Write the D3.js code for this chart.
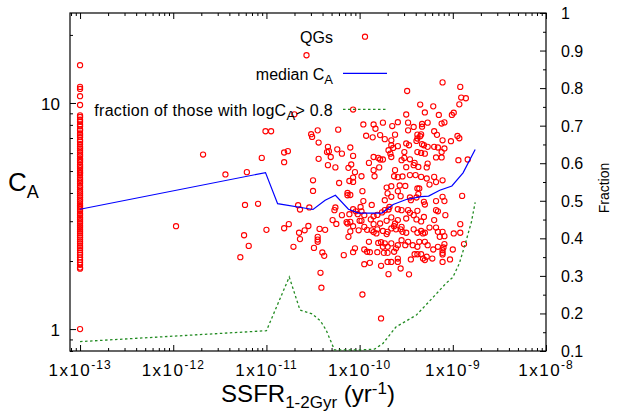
<!DOCTYPE html>
<html>
<head>
<meta charset="UTF-8">
<title>QGs: C_A vs SSFR</title>
<script src="https://d3js.org/d3.v7.min.js"></script>
<style>
  body { margin: 0; background: #fff; }
  text { font-family: "Liberation Sans", Arial, sans-serif; fill: #000; }
</style>
</head>
<body>
<div id="chart"></div>
<script>

// galaxies sitting at the SSFR floor (1e-13), log10 C_A
var floorSSFR = 1e-13;
var floorLogCA = [1.167, 1.071, 1.062, 1.030, 0.991, 0.945, 0.938, 0.926, 0.917, 0.905, 0.897, 0.884,
  0.878, 0.866, 0.858, 0.849, 0.836, 0.829, 0.818, 0.806, 0.799, 0.790, 0.781, 0.772, 0.765, 0.754,
  0.748, 0.739, 0.727, 0.720, 0.712, 0.703, 0.694, 0.688, 0.679, 0.668, 0.660, 0.652, 0.644, 0.633,
  0.626, 0.617, 0.608, 0.600, 0.591, 0.582, 0.573, 0.566, 0.556, 0.547, 0.540, 0.531, 0.522, 0.512,
  0.505, 0.494, 0.486, 0.477, 0.468, 0.459, 0.451, 0.442, 0.433, 0.424, 0.414, 0.405, 0.396, 0.387,
  0.378, 0.367, 0.359, 0.349, 0.338, 0.329, 0.317, 0.306, 0.295, 0.284, 0.272, 0.267, 0.000];

// the rest of the QGs: [log10 SSFR, log10 C_A]
var qgPoints = [
  [-11.01,0.875],[-10.95,0.875],[-11.68,0.772],[-10.81,0.781],[-10.77,0.787],[-11.05,0.757],[-10.81,0.738],
  [-11.44,0.684],[-11.21,0.694],[-11.23,0.549],[-11.09,0.554],[-11.97,0.455],[-11.00,0.439],[-10.81,0.446],
  [-10.76,0.464],[-11.24,0.415],[-11.19,0.368],[-11.28,0.318],
  [-10.57,1.211],[-10.70,0.950],[-10.52,0.862],[-10.51,0.850],[-10.45,0.879],[-10.23,0.882],[-10.07,0.971],
  [-9.11,1.091],[-9.49,1.053],[-8.92,1.071],[-8.91,1.024],[-8.86,1.021],[-8.93,0.994],[-9.35,0.993],
  [-9.21,0.985],[-9.50,0.949],[-9.30,0.958],[-9.15,0.947],[-8.99,0.957],[-9.01,0.947],
  [-9.96,0.905],[-9.85,0.905],[-9.83,0.886],[-9.75,0.913],[-9.65,0.898],[-9.59,0.915],[-9.48,0.913],
  [-9.48,0.879],[-9.42,0.894],[-9.33,0.907],[-9.33,0.895],[-9.27,0.913],[-9.20,0.875],[-9.12,0.909],
  [-9.09,0.914],[-9.93,0.855],[-9.86,0.848],[-9.78,0.858],[-9.62,0.860],[-9.38,0.860],[-9.34,0.861],
  [-9.17,0.859],[-8.95,0.854],[-8.93,0.844],
  [-10.44,0.825],[-10.34,0.806],[-10.33,0.787],[-10.35,0.783],[-10.24,0.795],[-10.19,0.776],[-10.10,0.803],
  [-10.07,0.766],[-10.44,0.753],[-10.31,0.761],[-10.34,0.725],[-10.26,0.715],[-10.12,0.713],[-10.09,0.728],
  [-9.90,0.735],[-9.85,0.761],[-9.80,0.757],[-9.78,0.750],[-9.75,0.750],[-9.85,0.703],[-9.79,0.715],
  [-9.98,0.676],[-10.07,0.670],[-10.11,0.655],[-10.07,0.651],[-10.05,0.694],[-10.22,0.646],[-10.50,0.658],
  [-9.84,0.676],
  [-9.73,0.840],[-9.66,0.835],[-9.38,0.843],[-9.39,0.832],[-9.35,0.853],[-9.33,0.818],[-9.27,0.806],
  [-9.31,0.813],[-9.11,0.835],[-9.02,0.831],[-9.66,0.813],[-9.64,0.801],[-9.59,0.809],[-9.50,0.821],
  [-9.47,0.813],[-9.52,0.783],[-9.38,0.783],[-9.34,0.779],[-9.30,0.776],[-9.69,0.791],[-9.67,0.776],
  [-9.66,0.761],[-9.55,0.747],[-9.52,0.757],[-9.46,0.751],[-9.41,0.735],[-9.37,0.717],[-9.28,0.715],
  [-9.27,0.732],[-9.42,0.725],[-9.50,0.716],[-9.62,0.703],[-9.63,0.676],[-9.59,0.672],[-9.54,0.675],
  [-9.46,0.681],[-9.40,0.681],[-9.34,0.673],[-9.28,0.666],[-9.20,0.673],[-9.11,0.658],[-9.18,0.650],
  [-9.25,0.639],[-9.38,0.622],[-9.36,0.622],[-9.51,0.633],[-9.57,0.635],[-9.66,0.632],[-9.71,0.626],
  [-9.20,0.806],[-9.16,0.803],[-9.09,0.799],[-9.12,0.783],[-9.18,0.759],[-9.12,0.759],[-8.94,0.747],
  [-8.84,0.750],
  [-10.50,0.611],[-10.13,0.602],[-10.10,0.593],[-10.13,0.592],[-9.97,0.610],[-9.96,0.566],[-10.66,0.548],
  [-10.64,0.529],[-10.54,0.538],[-10.26,0.538],[-10.27,0.526],[-9.99,0.540],[-9.87,0.549],[-10.07,0.530],
  [-10.04,0.521],[-10.02,0.508],[-10.11,0.508],[-10.19,0.504],[-9.98,0.521],[-9.95,0.504],[-9.85,0.499],
  [-9.81,0.505],[-9.76,0.516],[-9.73,0.526],
  [-10.55,0.456],[-10.59,0.437],[-10.65,0.426],[-10.64,0.398],[-10.43,0.443],[-10.37,0.439],[-10.45,0.408],
  [-10.45,0.396],[-10.45,0.386],[-10.29,0.482],[-10.25,0.465],[-10.14,0.473],[-10.13,0.467],[-10.10,0.474],
  [-10.07,0.455],[-10.00,0.479],[-9.98,0.479],[-10.10,0.432],[-10.12,0.408],[-10.01,0.437],[-9.95,0.452],
  [-9.92,0.439],[-9.88,0.485],[-9.85,0.464],[-9.87,0.437],[-9.85,0.429],[-9.81,0.441],[-9.82,0.423],
  [-9.78,0.467],[-9.75,0.434],[-9.90,0.386],[-9.95,0.352],[-9.92,0.342],[-9.89,0.340],[-9.81,0.340],
  [-9.80,0.381],[-9.77,0.384],[-9.75,0.364],[-9.74,0.337],[-10.71,0.364],[-10.49,0.359],[-10.40,0.339],
  [-10.38,0.324],[-10.17,0.327],[-10.05,0.357],[-10.07,0.340],[-9.95,0.287],[-9.89,0.293],[-9.77,0.280],
  [-10.42,0.249],[-10.41,0.183],[-9.97,0.153],[-9.77,0.047],
  [-9.70,0.600],[-9.66,0.585],[-9.59,0.610],[-9.56,0.588],[-9.46,0.582],[-9.45,0.570],[-9.39,0.582],
  [-9.37,0.597],[-9.31,0.563],[-9.30,0.551],[-9.18,0.566],[-9.11,0.585],[-9.09,0.566],[-8.90,0.589],
  [-9.73,0.570],[-9.68,0.540],[-9.69,0.529],[-9.59,0.530],[-9.55,0.526],[-9.48,0.526],[-9.46,0.514],
  [-9.38,0.523],[-9.42,0.504],[-9.31,0.496],[-9.18,0.526],[-9.16,0.521],[-9.08,0.504],[-9.20,0.482],
  [-9.34,0.476],[-9.39,0.485],[-9.50,0.489],[-9.59,0.482],[-9.66,0.494],[-9.71,0.479],[-9.62,0.467],
  [-9.63,0.455],[-9.55,0.452],[-9.56,0.441],[-9.66,0.445],[-9.70,0.430],[-9.71,0.420],[-9.61,0.441],
  [-9.54,0.430],[-9.50,0.426],[-9.42,0.441],[-9.38,0.426],[-9.34,0.434],[-9.32,0.423],[-9.30,0.426],
  [-9.25,0.449],[-9.18,0.449],[-9.16,0.430],[-9.11,0.430],[-9.14,0.408],[-9.09,0.411],[-8.99,0.423],
  [-8.92,0.426],[-8.92,0.464],[-8.88,0.376],[-9.00,0.352],[-9.09,0.376],[-9.10,0.361],[-9.11,0.349],
  [-9.11,0.337],[-9.16,0.364],[-9.21,0.352],[-9.30,0.386],[-9.27,0.371],[-9.36,0.386],[-9.38,0.364],
  [-9.43,0.371],[-9.48,0.386],[-9.51,0.371],[-9.55,0.393],[-9.59,0.371],[-9.61,0.357],[-9.66,0.379],
  [-9.70,0.364],[-9.73,0.379],[-9.70,0.337],[-9.63,0.342],[-9.59,0.312],[-9.59,0.297],[-9.66,0.297],
  [-9.70,0.297],[-9.56,0.268],[-9.69,0.243],[-9.47,0.242],[-9.45,0.308],[-9.41,0.331],[-9.38,0.331],
  [-9.32,0.312],[-9.30,0.305],[-9.34,0.331],[-9.28,0.320],[-9.22,0.312],[-9.11,0.330],[-9.11,0.297],
  [-9.03,0.308]
];

// median C_A per SSFR bin (log10 units)
var medLogSSFR = [-13.00, -11.01, -10.88, -10.50, -10.37, -10.26, -10.12, -10.01, -9.76, -9.64,
  -9.50, -9.34, -9.26, -9.14, -9.01, -8.89, -8.76];
var medLogCA = [0.530, 0.692, 0.555, 0.529, 0.570, 0.592, 0.530, 0.513, 0.513, 0.551,
  0.573, 0.586, 0.588, 0.614, 0.633, 0.691, 0.794];

// fraction with logC_A > 0.8 (right axis)
var fracLogSSFR = [-13.00, -11.00, -10.755, -10.64, -10.51, -10.42, -10.36, -10.27, -10.00, -9.84,
  -9.75, -9.61, -9.39, -9.20, -9.07, -9.00, -8.93, -8.86, -8.80, -8.76];
var fracValues = [0.125, 0.154, 0.297, 0.209, 0.199, 0.180, 0.156, 0.103, 0.103, 0.105,
  0.120, 0.164, 0.196, 0.246, 0.281, 0.296, 0.333, 0.391, 0.444, 0.496];

// ticks
var xTickValues = [1e-13, 1e-12, 1e-11, 1e-10, 1e-9, 1e-8];
var xTickExp = ["-13", "-12", "-11", "-10", "-9", "-8"];
var yTickValues = [1, 10];
var yTickLabels = ["1", "10"];
var y2TickValues = [0.1, 0.2, 0.3, 0.4, 0.5, 0.6, 0.7, 0.8, 0.9, 1];
var y2TickLabels = ["0.1", "0.2", "0.3", "0.4", "0.5", "0.6", "0.7", "0.8", "0.9", "1"];

var margin = {top: 13, right: 73, bottom: 60, left: 70},
    width = 619 - margin.left - margin.right,
    height = 411 - margin.top - margin.bottom;

var svg = d3.select("#chart")
  .append("svg")
    .attr("width", width + margin.left + margin.right)
    .attr("height", height + margin.top + margin.bottom)
  .append("g")
    .attr("transform", "translate(" + margin.left + "," + margin.top + ")");

var x = d3.scaleLog().domain([7.8e-14, 1e-8]).range([0, width]);
var y = d3.scaleLog().domain([0.8, 25]).range([height, 0]);
var y2 = d3.scaleLinear().domain([0.1, 1]).range([height, 0]);

// minor tick positions
var xMinor = [];
[1e-14, 1e-13, 1e-12, 1e-11, 1e-10, 1e-9].forEach(function(d) {
  for (var m = 2; m <= 9; m++) {
    var v = d * m;
    if (v >= x.domain()[0] && v <= x.domain()[1]) xMinor.push(v);
  }
});
var yMinor = [];
[0.1, 1, 10].forEach(function(d) {
  for (var m = 2; m <= 9; m++) {
    var v = d * m;
    if (v >= y.domain()[0] && v <= y.domain()[1]) yMinor.push(v);
  }
});
var y2Minor = [0.15, 0.25, 0.35, 0.45, 0.55, 0.65, 0.75, 0.85, 0.95];

function tickAxis(axis, vals, size, transform) {
  var g = svg.append("g")
    .attr("transform", transform || null)
    .call(axis.tickValues(vals).tickSizeInner(size).tickSizeOuter(0).tickFormat(""));
  g.select(".domain").remove();
  g.selectAll("line").attr("stroke", "#000").attr("stroke-width", 1);
}

// inward ticks: bottom, top (mirror), left, right (y2)
tickAxis(d3.axisBottom(x), xTickValues, -6, "translate(0," + height + ")");
tickAxis(d3.axisBottom(x), xMinor, -3, "translate(0," + height + ")");
tickAxis(d3.axisTop(x), xTickValues, -6);
tickAxis(d3.axisTop(x), xMinor, -3);
tickAxis(d3.axisLeft(y), yTickValues, -6);
tickAxis(d3.axisLeft(y), yMinor, -3);
tickAxis(d3.axisRight(y2), y2TickValues, -6, "translate(" + width + ",0)");
tickAxis(d3.axisRight(y2), y2Minor, -3, "translate(" + width + ",0)");

// border
svg.append("rect")
  .attr("width", width).attr("height", height)
  .attr("fill", "none").attr("stroke", "#000").attr("stroke-width", 1.2);

// x tick labels 1x10^n
xTickValues.forEach(function(v, i) {
  var t = svg.append("text")
    .attr("x", x(v)).attr("y", height + 25)
    .attr("text-anchor", "middle")
    .style("font-size", "17px");
  t.append("tspan").text("1x10").style("letter-spacing", "1.5px");
  t.append("tspan").attr("dy", -7).style("font-size", "12px").style("letter-spacing", "1px").text(xTickExp[i]);
});

// left tick labels
yTickValues.forEach(function(v, i) {
  svg.append("text")
    .attr("x", -10).attr("y", y(v) + 7)
    .attr("text-anchor", "end")
    .style("font-size", "17px")
    .text(yTickLabels[i]);
});

// right tick labels
y2TickValues.forEach(function(v, i) {
  svg.append("text")
    .attr("x", width + 15).attr("y", y2(v) + 6)
    .style("font-size", "16px")
    .text(y2TickLabels[i]);
});

// axis titles
var xl = svg.append("text")
  .attr("x", width / 2).attr("y", height + 51)
  .attr("text-anchor", "middle")
  .style("font-size", "24px");
xl.append("tspan").text("SSFR");
xl.append("tspan").attr("dy", 6).style("font-size", "17px").text("1-2Gyr");
xl.append("tspan").attr("dy", -6).text(" (yr");
xl.append("tspan").attr("dy", -8).style("font-size", "17px").text("-1");
xl.append("tspan").attr("dy", 8).text(")");

var yl = svg.append("text")
  .attr("x", -62).attr("y", 182 - margin.top + 9)
  .style("font-size", "26px");
yl.append("tspan").text("C");
yl.append("tspan").attr("dy", 7).style("font-size", "18px").text("A");

svg.append("text")
  .attr("transform", "translate(" + (width + 63) + "," + (188 - margin.top) + ") rotate(-90)")
  .attr("text-anchor", "middle")
  .style("font-size", "14px")
  .text("Fraction");

// clip to plot area
svg.append("clipPath").attr("id", "plotclip")
  .append("rect").attr("width", width).attr("height", height);
var plot = svg.append("g").attr("clip-path", "url(#plotclip)");

// points
plot.selectAll(".floor")
  .data(floorLogCA)
  .enter().append("circle")
    .attr("class", "floor")
    .attr("cx", x(floorSSFR))
    .attr("cy", function(d) { return y(Math.pow(10, d)); })
    .attr("r", 2.6)
    .attr("fill", "none").attr("stroke", "#ff0000").attr("stroke-width", 1.1);

plot.selectAll(".qg")
  .data(qgPoints)
  .enter().append("circle")
    .attr("class", "qg")
    .attr("cx", function(d) { return x(Math.pow(10, d[0])); })
    .attr("cy", function(d) { return y(Math.pow(10, d[1])); })
    .attr("r", 2.6)
    .attr("fill", "none").attr("stroke", "#ff0000").attr("stroke-width", 1.1);

// median line
var medData = medLogSSFR.map(function(d, i) { return [Math.pow(10, d), Math.pow(10, medLogCA[i])]; });
plot.append("path")
  .datum(medData)
  .attr("d", d3.line().x(function(d) { return x(d[0]); }).y(function(d) { return y(d[1]); }))
  .attr("fill", "none").attr("stroke", "#0000ff").attr("stroke-width", 1.2);

// fraction line
var fracData = fracLogSSFR.map(function(d, i) { return [Math.pow(10, d), fracValues[i]]; });
plot.append("path")
  .datum(fracData)
  .attr("d", d3.line().x(function(d) { return x(d[0]); }).y(function(d) { return y2(d[1]); }))
  .attr("fill", "none").attr("stroke", "#228b22").attr("stroke-width", 1.3)
  .attr("stroke-dasharray", "2.5,2.5");

// legend
var key = svg.append("g").attr("transform", "translate(" + (333 - margin.left) + ",0)");
var rows = [23.7, 60.3, 96.3];

key.append("text").attr("x", 0).attr("y", rows[0] + 6.5)
  .attr("text-anchor", "end").style("font-size", "16px").text("QGs");
key.append("circle").attr("cx", 32).attr("cy", rows[0]).attr("r", 2.6)
  .attr("fill", "none").attr("stroke", "#ff0000").attr("stroke-width", 1.1);

var k2 = key.append("text").attr("x", 0).attr("y", rows[1] + 6.5)
  .attr("text-anchor", "end").style("font-size", "16px");
k2.append("tspan").text("median C");
k2.append("tspan").attr("dy", 4).style("font-size", "13px").text("A");
key.append("line").attr("x1", 10).attr("x2", 54).attr("y1", rows[1]).attr("y2", rows[1])
  .attr("stroke", "#0000ff").attr("stroke-width", 1.2);

var k3 = key.append("text").attr("x", 0).attr("y", rows[2] + 6.5)
  .attr("text-anchor", "end").style("font-size", "16px").style("letter-spacing", "0.3px");
k3.append("tspan").text("fraction of those with logC");
k3.append("tspan").attr("dy", 4).style("font-size", "13px").text("A");
k3.append("tspan").attr("dy", -4).text("> 0.8");
key.append("line").attr("x1", 10).attr("x2", 54).attr("y1", rows[2]).attr("y2", rows[2])
  .attr("stroke", "#228b22").attr("stroke-width", 1.3).attr("stroke-dasharray", "2.5,2.5");

</script>
</body>
</html>
